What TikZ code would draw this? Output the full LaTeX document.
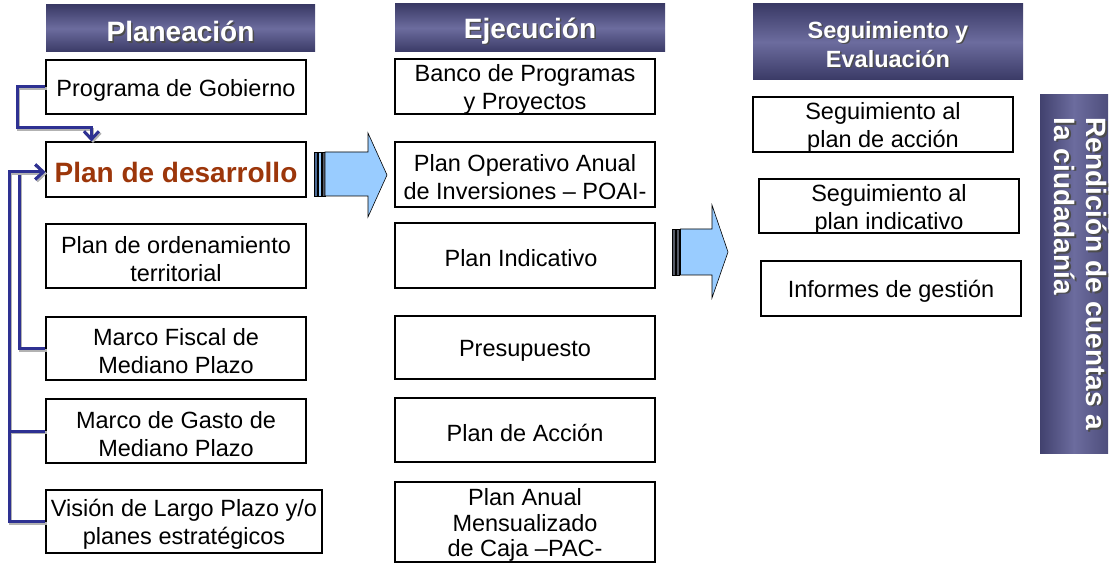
\documentclass[tikz,border=0pt]{standalone}
\usepackage{fontspec}
\setmainfont{Liberation Sans}
\usetikzlibrary{arrows.meta}
\definecolor{navy}{HTML}{2E3192}
\definecolor{hdark}{HTML}{3A3A66}
\definecolor{hlight}{HTML}{6C6C9E}
\definecolor{arrowblue}{HTML}{99CCFF}
\definecolor{stripeA}{HTML}{4A6A96}
\definecolor{stripeB}{HTML}{555A66}
\definecolor{pdbrown}{HTML}{9C360A}
\newcommand\tbox[6]{%
  \node[box, minimum width=#3, minimum height=#4] (#1) at (#2) {};
  \node[btext, #5] (#1T) at ([shift={(0,3)}]#1.center) {#6};}
\begin{document}
\begin{tikzpicture}[x=1pt,y=-1pt,
  box/.style={draw=black, line width=1.1pt, fill=white, inner sep=0pt},
  btext/.style={inner sep=0pt, align=center, font=\fontsize{23.5}{28}\selectfont},
  header/.style={inner sep=0pt, top color=hdark, bottom color=hdark, middle color=hlight},
  htext/.style={text=white, align=center, font=\bfseries\fontsize{28}{32}\selectfont},
  hshadow/.style={text=black!70, align=center, font=\bfseries\fontsize{28}{32}\selectfont},
  conn/.style={draw=navy, line width=3pt,
    preaction={draw=black!30, line width=3pt, transform canvas={shift={(1.5pt,-1.5pt)}}}},
  tip/.style={-{Straight Barb[length=8pt,width=15pt]}},
  bigarrow/.style={draw=black, line width=0.6pt, fill=arrowblue}
]
\useasboundingbox (0,0) rectangle (1109,564);

% Headers
\node[header, minimum width=269, minimum height=47] (hp) at (180.5,28.5) {};
\node[hshadow] (hpS) at ([shift={(1.5,4.5)}]hp.center) {Planeación};
\node[htext] (hpT) at ([shift={(0,3)}]hp.center) {Planeación};

\node[header, minimum width=270, minimum height=48] (he) at (530,28) {};
\node[hshadow] (heS) at ([shift={(1.5,4.5)}]he.center) {Ejecución};
\node[htext] (heT) at ([shift={(0,3)}]he.center) {Ejecución};

\node[header, minimum width=270, minimum height=76] (hs) at (888,42) {};
\node[hshadow, font=\bfseries\fontsize{23.5}{29}\selectfont] (hsS) at ([shift={(1.5,4)}]hs.center) {Seguimiento y\\Evaluación};
\node[htext, font=\bfseries\fontsize{23.5}{29}\selectfont] (hsT) at ([shift={(0,2.5)}]hs.center) {Seguimiento y\\Evaluación};

\node[inner sep=0pt, minimum width=68, minimum height=358, left color=hdark!85!hlight, right color=hdark!60!hlight, middle color=hlight] (rend) at (1074,274) {};
\node[hshadow, rotate=-90, align=left] (rendS) at (1082.5,275.5) {Rendición de cuentas a\\la ciudadanía};
\node[htext, rotate=-90, align=left] (rendT) at (1081,274) {Rendición de cuentas a\\la ciudadanía};

% Left column
\tbox{pg}{176,87}{260}{54}{}{Programa de Gobierno}
\tbox{pd}{176,169.5}{260}{55}{text=pdbrown, font=\bfseries\fontsize{28}{32}\selectfont}{Plan de desarrollo}
\tbox{pot}{176,256}{260}{64}{}{Plan de ordenamiento\\territorial}
\tbox{mf}{176,348.5}{260}{63}{}{Marco Fiscal de\\Mediano Plazo}
\tbox{mg}{176,431}{260}{64}{}{Marco de Gasto de\\Mediano Plazo}
\tbox{vis}{184,521.5}{276}{63}{}{Visión de Largo Plazo y/o\\planes estratégicos}

% Middle column
\tbox{banco}{525,86.5}{260}{55}{}{Banco de Programas\\y Proyectos}
\tbox{poai}{525,174.5}{260}{65}{}{Plan Operativo Anual\\de Inversiones – POAI-}
\tbox{pind}{525,255.5}{260}{65}{xshift=-4pt}{Plan Indicativo}
\tbox{pres}{525,347.5}{260}{63}{}{Presupuesto}
\tbox{pacc}{525,430}{260}{64}{}{Plan de Acción}
\tbox{pac}{525,522}{260}{80}{font=\fontsize{23.5}{25.5}\selectfont}{Plan Anual\\Mensualizado\\de Caja –PAC-}

% Right column
\tbox{sa}{883,124.5}{260}{55}{}{Seguimiento al\\plan de acción}
\tbox{si}{889,206}{260}{54}{}{Seguimiento al\\plan indicativo}
\tbox{ig}{891,288.5}{260}{55}{}{Informes de gestión}

% Big striped arrows
\filldraw[draw=black, line width=0.5pt, fill=stripeA] (314,152) rectangle (317.5,196);
\filldraw[draw=black, line width=0.5pt, fill=arrowblue] (318.5,152) rectangle (321.5,196);
\filldraw[draw=black, line width=0.5pt, fill=stripeB] (322,152) rectangle (325,196);
\draw[bigarrow] (325,152) -- (368,152) -- (368,133) -- (387,175) -- (368,217) -- (368,196) -- (325,196) -- cycle;

\filldraw[draw=black, line width=0.5pt, fill=stripeB] (672,229) rectangle (675.5,275);
\filldraw[draw=black, line width=0.5pt, fill=stripeB] (676.5,229) rectangle (679.5,275);
\draw[bigarrow] (680.5,229) -- (712,229) -- (712,205) -- (728,252) -- (712,298) -- (712,275) -- (680.5,275) -- cycle;

% Connectors
\draw[conn, tip] (pg.west) -| (17,128) -| ([xshift=46pt]pd.north west);
\draw[conn, tip] (mf.west) -- ++(-26,0) |- ([yshift=-2.5pt]pd.west);
\draw[conn, tip] (vis.west) -- ++(-36,0) |- ([yshift=-2.5pt]pd.west);
\draw[conn] (mg.west) -- ++(-36,0);
\end{tikzpicture}
\end{document}
